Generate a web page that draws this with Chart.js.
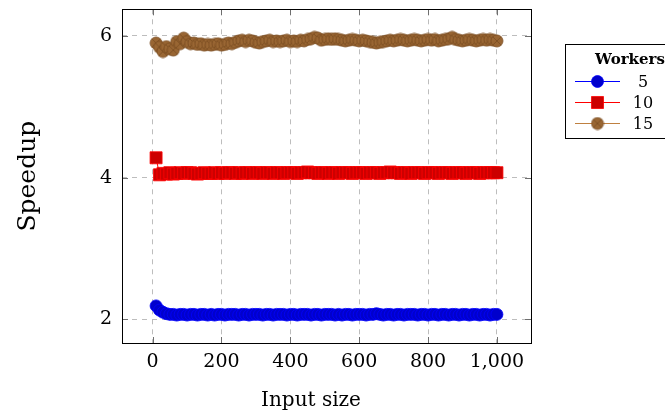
<!DOCTYPE html>
<html lang="en">
<head>
<meta charset="UTF-8">
<title>Speedup vs input size</title>
<script src="https://cdn.jsdelivr.net/npm/chart.js"></script>
<style>
  html, body { margin: 0; padding: 0; background: #fff; }
  #chart { display: block; }
</style>
</head>
<body>
<canvas id="chart" width="665" height="419"></canvas>
<script>
// input sizes 10, 20, ... 1000
const inputSizes = [
  10, 20, 30, 40, 50, 60, 70, 80, 90, 100,
  110, 120, 130, 140, 150, 160, 170, 180, 190, 200,
  210, 220, 230, 240, 250, 260, 270, 280, 290, 300,
  310, 320, 330, 340, 350, 360, 370, 380, 390, 400,
  410, 420, 430, 440, 450, 460, 470, 480, 490, 500,
  510, 520, 530, 540, 550, 560, 570, 580, 590, 600,
  610, 620, 630, 640, 650, 660, 670, 680, 690, 700,
  710, 720, 730, 740, 750, 760, 770, 780, 790, 800,
  810, 820, 830, 840, 850, 860, 870, 880, 890, 900,
  910, 920, 930, 940, 950, 960, 970, 980, 990, 1000
];

const speedup5 = [
  2.19, 2.13, 2.10, 2.08, 2.07, 2.07, 2.06, 2.07, 2.07, 2.06,
  2.07, 2.07, 2.06, 2.07, 2.07, 2.06, 2.07, 2.06, 2.07, 2.07,
  2.06, 2.07, 2.07, 2.07, 2.06, 2.07, 2.07, 2.06, 2.07, 2.07,
  2.07, 2.06, 2.07, 2.07, 2.06, 2.07, 2.07, 2.07, 2.06, 2.07,
  2.07, 2.06, 2.07, 2.07, 2.07, 2.06, 2.07, 2.07, 2.06, 2.07,
  2.07, 2.07, 2.06, 2.07, 2.06, 2.07, 2.07, 2.06, 2.07, 2.07,
  2.07, 2.06, 2.07, 2.07, 2.08, 2.07, 2.06, 2.07, 2.07, 2.06,
  2.07, 2.07, 2.06, 2.07, 2.07, 2.07, 2.06, 2.07, 2.07, 2.06,
  2.07, 2.07, 2.06, 2.07, 2.07, 2.06, 2.07, 2.07, 2.06, 2.07,
  2.07, 2.06, 2.07, 2.07, 2.06, 2.07, 2.07, 2.06, 2.07, 2.07
];

const speedup10 = [
  4.28, 4.04, 4.06, 4.05, 4.07, 4.05, 4.06, 4.07, 4.06, 4.07,
  4.07, 4.06, 4.05, 4.06, 4.07, 4.06, 4.06, 4.07, 4.06, 4.07,
  4.06, 4.07, 4.07, 4.06, 4.07, 4.06, 4.07, 4.07, 4.06, 4.07,
  4.07, 4.06, 4.07, 4.07, 4.06, 4.07, 4.07, 4.06, 4.07, 4.07,
  4.07, 4.06, 4.07, 4.07, 4.08, 4.07, 4.07, 4.06, 4.07, 4.07,
  4.06, 4.07, 4.07, 4.06, 4.07, 4.07, 4.07, 4.06, 4.07, 4.07,
  4.07, 4.06, 4.07, 4.07, 4.07, 4.06, 4.07, 4.07, 4.08, 4.07,
  4.07, 4.06, 4.07, 4.07, 4.06, 4.07, 4.07, 4.07, 4.06, 4.07,
  4.07, 4.07, 4.06, 4.07, 4.07, 4.07, 4.06, 4.07, 4.07, 4.07,
  4.06, 4.07, 4.07, 4.07, 4.06, 4.07, 4.07, 4.07, 4.07, 4.07
];

const speedup15 = [
  5.90, 5.84, 5.78, 5.85, 5.82, 5.80, 5.92, 5.89, 5.97, 5.92,
  5.89, 5.90, 5.88, 5.89, 5.87, 5.88, 5.87, 5.88, 5.89, 5.87,
  5.88, 5.90, 5.89, 5.91, 5.93, 5.94, 5.92, 5.94, 5.93, 5.91,
  5.90, 5.92, 5.93, 5.94, 5.92, 5.93, 5.92, 5.93, 5.94, 5.92,
  5.93, 5.92, 5.94, 5.93, 5.95, 5.96, 5.98, 5.97, 5.94, 5.95,
  5.96, 5.95, 5.96, 5.95, 5.94, 5.93, 5.94, 5.95, 5.94, 5.93,
  5.94, 5.93, 5.92, 5.91, 5.90, 5.91, 5.92, 5.93, 5.94, 5.93,
  5.94, 5.95, 5.94, 5.93, 5.94, 5.95, 5.94, 5.93, 5.94, 5.95,
  5.94, 5.95, 5.93, 5.94, 5.95, 5.96, 5.98, 5.95, 5.94, 5.93,
  5.94, 5.95, 5.94, 5.93, 5.94, 5.95, 5.94, 5.95, 5.94, 5.93
];

const workerLabels = ['5', '10', '15'];
const xTicks = [0, 200, 400, 600, 800, 1000];
const yTicks = [2, 4, 6];

const FONT = "'DejaVu Serif', serif";
Chart.defaults.font.family = FONT;
Chart.defaults.color = '#000';

// circle with a cross inside (the brown marker)
function makeOtimes() {
  const c = document.createElement('canvas');
  c.width = 14; c.height = 14;
  const g = c.getContext('2d');
  g.beginPath();
  g.arc(7, 7, 6, 0, Math.PI * 2);
  g.fillStyle = '#996633';
  g.fill();
  g.lineWidth = 0.8;
  g.strokeStyle = '#7a4d22';
  g.stroke();
  g.beginPath();
  const d = 6 * Math.SQRT1_2;
  g.moveTo(7 - d, 7 - d); g.lineTo(7 + d, 7 + d);
  g.moveTo(7 + d, 7 - d); g.lineTo(7 - d, 7 + d);
  g.stroke();
  return c;
}
const otimes = makeOtimes();

function toPoints(ys) {
  return inputSizes.map((x, i) => ({ x: x, y: ys[i] }));
}

const seriesStyles = [
  { line: '#0000ff', fill: '#0000cc', border: '#0000ff', style: 'circle', radius: 6 },
  { line: '#ff0000', fill: '#cc0000', border: '#ff0000', style: 'rect', radius: 8.5 },
  { line: '#bf8040', fill: '#996633', border: '#7a4d22', style: otimes, radius: 6 }
];

const datasets = [speedup5, speedup10, speedup15].map((ys, i) => ({
  label: workerLabels[i],
  data: toPoints(ys),
  borderColor: seriesStyles[i].line,
  borderWidth: 1,
  backgroundColor: seriesStyles[i].fill,
  pointBackgroundColor: seriesStyles[i].fill,
  pointBorderColor: seriesStyles[i].border,
  pointBorderWidth: 0.8,
  pointStyle: seriesStyles[i].style,
  pointRadius: seriesStyles[i].radius,
  tension: 0,
  fill: false
}));

// box round the plot, ticks inside on all four sides, x axis label
const frame = {
  id: 'frame',
  beforeDatasetsDraw(chart) {
    const { ctx, chartArea: a, scales } = chart;
    ctx.save();
    ctx.strokeStyle = '#6e6e6e';
    ctx.lineWidth = 1;
    ctx.beginPath();
    xTicks.forEach(v => {
      const x = Math.round(scales.x.getPixelForValue(v)) + 0.5;
      ctx.moveTo(x, a.bottom); ctx.lineTo(x, a.bottom - 6);
      ctx.moveTo(x, a.top); ctx.lineTo(x, a.top + 6);
    });
    yTicks.forEach(v => {
      const y = Math.round(scales.y.getPixelForValue(v)) + 0.5;
      ctx.moveTo(a.left, y); ctx.lineTo(a.left + 6, y);
      ctx.moveTo(a.right, y); ctx.lineTo(a.right - 6, y);
    });
    ctx.stroke();
    ctx.restore();
  },
  afterDraw(chart) {
    const { ctx, chartArea: a } = chart;
    ctx.save();
    ctx.strokeStyle = '#000';
    ctx.lineWidth = 1;
    ctx.strokeRect(Math.round(a.left) + 0.5, Math.round(a.top) + 0.5,
      Math.round(a.right - a.left), Math.round(a.bottom - a.top));
    ctx.fillStyle = '#000';
    ctx.font = '20px ' + FONT;
    ctx.textAlign = 'center';
    ctx.textBaseline = 'alphabetic';
    ctx.fillText('Input size', 311, 406);
    ctx.restore();
  }
};

// legend with a title, drawn in the right margin
const legendBox = {
  id: 'legendBox',
  afterDraw(chart) {
    const ctx = chart.ctx;
    const left = 565.5, top = 44.5, w = 110, h = 94;
    ctx.save();
    ctx.fillStyle = '#fff';
    ctx.fillRect(left, top, w, h);
    ctx.strokeStyle = '#000';
    ctx.lineWidth = 1;
    ctx.strokeRect(left, top, w, h);
    ctx.fillStyle = '#000';
    ctx.textAlign = 'center';
    ctx.textBaseline = 'middle';
    ctx.font = 'bold 15px ' + FONT;
    ctx.fillText('Workers', 630, 60);
    const rows = [81.5, 102.5, 123.5];
    chart.data.datasets.forEach((ds, i) => {
      const y = rows[i];
      ctx.strokeStyle = ds.borderColor;
      ctx.lineWidth = 1;
      ctx.beginPath();
      ctx.moveTo(575, y); ctx.lineTo(620, y);
      ctx.stroke();
      ctx.fillStyle = ds.pointBackgroundColor;
      ctx.strokeStyle = ds.pointBorderColor;
      ctx.lineWidth = ds.pointBorderWidth;
      Chart.helpers.drawPoint(ctx, {
        pointStyle: ds.pointStyle,
        radius: ds.pointRadius,
        borderWidth: ds.pointBorderWidth,
        rotation: 0
      }, 597.5, y);
      ctx.fillStyle = '#000';
      ctx.font = '16px ' + FONT;
      ctx.fillText(ds.label, 643, y + 1);
    });
    ctx.restore();
  }
};

new Chart(document.getElementById('chart'), {
  type: 'line',
  data: { datasets: datasets },
  options: {
    responsive: false,
    animation: false,
    layout: { padding: { left: 0, right: 134, top: 8, bottom: 0 } },
    plugins: {
      legend: { display: false },
      tooltip: { enabled: false }
    },
    scales: {
      x: {
        type: 'linear',
        min: -89,
        max: 1099,
        afterBuildTicks: axis => { axis.ticks = xTicks.map(v => ({ value: v })); },
        afterFit: axis => {
          axis.height = 76;
          axis.paddingLeft = 0; axis.paddingRight = 0;
        },
        ticks: {
          font: { size: 19 },
          padding: 8,
          maxRotation: 0,
          callback: v => v.toLocaleString('en-US')
        },
        grid: { color: '#bdbdbd', drawTicks: false },
        border: { display: false, dash: [5, 5] },
        title: { display: false }
      },
      y: {
        min: 1.666,
        max: 6.376,
        afterBuildTicks: axis => { axis.ticks = yTicks.map(v => ({ value: v })); },
        afterFit: axis => {
          axis.width = 122;
          axis.paddingTop = 0; axis.paddingBottom = 0;
        },
        ticks: { font: { size: 19 }, padding: 10 },
        grid: { color: '#bdbdbd', drawTicks: false },
        border: { display: false, dash: [5, 5] },
        title: {
          display: true,
          text: 'Speedup',
          font: { size: 25 },
          padding: { top: 13, bottom: 0 }
        }
      }
    }
  },
  plugins: [frame, legendBox]
});
</script>
</body>
</html>
